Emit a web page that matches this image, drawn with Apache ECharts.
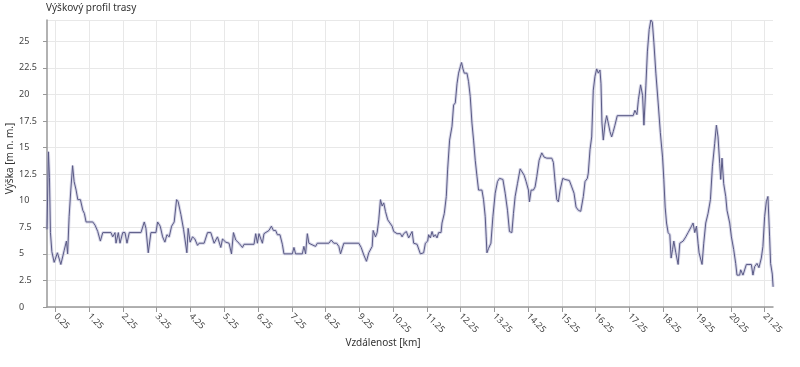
<!DOCTYPE html>
<html>
<head>
<meta charset="utf-8">
<script src="https://cdn.jsdelivr.net/npm/echarts@6/dist/echarts.min.js"></script>
<style>html,body{margin:0;padding:0;background:#fff}#c{width:800px;height:367px}</style>
</head>
<body>
<div id="c"></div>
<script>
const titleText = 'Výškový profil trasy';
const xAxisName = 'Vzdálenost [km]';
const yAxisName = 'Výška [m n. m.]';
const xTickValues = [0.25,1.25,2.25,3.25,4.25,5.25,6.25,7.25,8.25,9.25,10.25,11.25,12.25,13.25,14.25,15.25,16.25,17.25,18.25,19.25,20.25,21.25];
const distanceKm = [0.0,0.043,0.073,0.102,0.144,0.212,0.309,0.410,0.507,0.575,0.611,0.655,0.705,0.758,0.803,0.862,0.912,0.989,1.060,1.107,1.157,1.355,1.423,1.503,1.580,1.651,1.896,1.946,2.014,2.044,2.112,2.162,2.242,2.310,2.369,2.437,2.783,2.880,2.930,2.998,3.078,3.226,3.276,3.353,3.424,3.492,3.551,3.619,3.690,3.767,3.837,3.885,3.965,4.044,4.142,4.180,4.239,4.310,4.378,4.458,4.505,4.653,4.754,4.851,4.949,5.049,5.147,5.197,5.294,5.392,5.463,5.522,5.590,5.687,5.788,5.835,6.131,6.181,6.231,6.278,6.379,6.426,6.574,6.645,6.704,6.772,6.822,6.899,6.970,7.017,7.265,7.313,7.363,7.561,7.608,7.658,7.709,7.756,7.954,8.004,8.347,8.418,8.495,8.575,8.643,8.693,8.790,9.234,9.304,9.381,9.461,9.529,9.630,9.659,9.727,9.777,9.825,9.875,9.925,9.972,10.023,10.091,10.150,10.221,10.268,10.318,10.368,10.466,10.516,10.563,10.643,10.711,10.761,10.812,10.859,10.909,10.959,11.057,11.154,11.205,11.273,11.302,11.352,11.403,11.450,11.500,11.550,11.598,11.669,11.698,11.766,11.825,11.864,11.923,11.994,12.041,12.091,12.142,12.189,12.239,12.277,12.319,12.357,12.437,12.484,12.534,12.585,12.632,12.682,12.733,12.780,12.880,12.928,12.978,13.007,13.028,13.075,13.146,13.205,13.273,13.341,13.400,13.501,13.569,13.637,13.696,13.767,13.814,13.864,13.932,14.012,14.062,14.130,14.189,14.257,14.287,14.337,14.405,14.455,14.506,14.574,14.653,14.721,14.801,14.949,14.996,15.046,15.097,15.144,15.194,15.274,15.342,15.469,15.540,15.608,15.667,15.735,15.806,15.883,15.933,16.001,16.030,16.081,16.131,16.178,16.228,16.279,16.326,16.376,16.406,16.435,16.474,16.524,16.574,16.622,16.672,16.722,16.769,16.819,16.888,17.360,17.410,17.470,17.514,17.579,17.608,17.638,17.677,17.735,17.780,17.833,17.883,17.927,17.972,18.031,18.099,18.164,18.229,18.267,18.306,18.347,18.394,18.445,18.483,18.525,18.563,18.622,18.690,18.740,18.790,18.838,18.917,18.986,19.036,19.086,19.133,19.183,19.234,19.281,19.311,19.399,19.449,19.508,19.576,19.647,19.706,19.774,19.824,19.872,19.922,19.952,19.990,20.040,20.100,20.138,20.218,20.268,20.336,20.395,20.433,20.513,20.543,20.611,20.661,20.711,20.788,20.859,20.906,20.957,21.025,21.084,21.154,21.202,21.252,21.302,21.350,21.400,21.429,21.479,21.503];
const elevation = [7.3,14.6,12.2,7.0,5.2,4.2,5.1,4.0,5.3,6.2,5.0,8.5,11.0,13.3,11.8,11.0,10.1,10.1,9.1,8.8,8.0,8.0,7.7,7.1,6.2,7.0,7.0,6.6,7.0,6.0,7.0,6.0,7.0,7.0,6.0,7.0,7.0,8.0,7.4,5.1,7.0,7.0,8.0,7.6,6.6,6.1,6.8,6.6,7.6,8.0,10.1,9.9,8.7,7.3,5.1,7.4,6.1,6.6,6.4,5.8,6.0,6.0,7.0,7.0,6.0,6.6,5.6,6.4,6.1,6.0,5.0,7.0,6.3,6.0,5.6,5.9,5.9,6.9,6.0,6.9,6.0,6.9,7.2,7.6,7.2,7.2,6.8,6.8,5.9,5.0,5.0,5.6,5.0,5.0,5.7,5.0,6.9,6.0,5.7,6.0,6.0,6.3,6.0,6.0,5.7,5.0,6.0,6.0,5.6,4.9,4.3,5.1,5.7,7.2,6.6,7.0,8.2,10.1,9.5,9.8,9.0,8.2,8.1,7.6,7.1,7.2,6.9,6.9,6.6,6.9,7.1,6.5,6.6,7.1,6.0,6.1,5.9,5.0,5.1,6.0,6.2,6.8,6.5,7.1,6.6,6.8,6.5,7.0,7.0,7.9,8.8,10.4,12.9,15.7,17.0,19.0,19.2,21.0,22.0,22.6,23.0,22.4,22.0,22.0,21.2,19.8,17.3,15.7,13.8,12.3,11.0,11.0,10.1,8.5,6.6,5.1,5.5,6.0,8.5,10.7,11.8,12.1,12.0,10.7,9.1,7.1,7.0,8.8,10.4,11.6,13.0,13.0,12.4,11.8,11.0,9.9,11.0,11.0,11.3,12.3,13.8,14.5,14.1,14.0,14.0,13.6,11.8,10.1,9.9,11.0,12.1,12.0,11.9,11.3,10.7,9.4,9.1,9.0,10.4,11.8,12.1,12.6,14.8,16.0,20.4,21.7,22.4,22.0,22.3,21.0,17.3,15.7,17.2,18.0,17.3,16.5,16.0,16.5,17.1,18.0,18.0,18.5,18.1,19.5,20.9,20.9,19.9,17.1,20.8,24.0,26.1,27.0,26.8,24.9,22.0,19.2,16.4,14.1,12.0,9.4,7.9,7.0,6.8,4.6,5.4,6.2,5.1,4.0,6.0,6.0,6.2,6.6,7.0,7.0,7.6,7.9,7.0,7.6,6.0,5.1,4.0,6.0,7.9,8.8,10.1,13.2,15.4,17.1,16.0,13.5,12.0,14.0,11.6,10.4,9.1,7.9,6.6,5.4,4.1,3.0,3.0,3.5,3.0,3.0,4.0,4.0,4.0,3.0,3.8,4.1,3.7,4.6,5.7,8.5,9.9,10.4,6.6,4.1,3.1,1.9];

const points = distanceKm.map((d, i) => [d, elevation[i]]);
const FONT = 'Noto Sans';
const chart = echarts.init(document.getElementById('c'), null, {renderer: 'canvas'});
chart.setOption({
  animation: false,
  backgroundColor: '#fff',
  textStyle: {fontFamily: FONT},
  title: {
    text: titleText, left: 46, top: 3, padding: 0,
    textStyle: {fontSize: 10, fontWeight: 'normal', color: '#333', fontFamily: FONT}
  },
  grid: {left: 47, right: 27, top: 20, bottom: 60, containLabel: false, outerBoundsMode: 'none'},
  xAxis: {
    type: 'value', min: 0, max: 21.5,
    name: xAxisName, nameLocation: 'middle', nameGap: 31, nameMoveOverlap: false,
    nameTextStyle: {fontSize: 10, color: '#333', fontFamily: FONT, padding: [0, 54, 0, 0]},
    axisLine: {lineStyle: {color: '#999', width: 1.5}},
    axisTick: {show: true, customValues: xTickValues, length: 5, lineStyle: {color: '#999'}},
    axisLabel: {customValues: xTickValues, rotate: -45, fontSize: 9, color: '#444', margin: 8,
      formatter: v => v.toFixed(2)},
    splitLine: {show: true, lineStyle: {color: '#e8e8e8', width: 1}}
  },
  yAxis: {
    type: 'value', min: 0, max: 27, interval: 2.5,
    name: yAxisName, nameLocation: 'middle', nameGap: 32, nameRotate: 90, nameMoveOverlap: false,
    nameTextStyle: {fontSize: 10, color: '#333', fontFamily: FONT, padding: [0, 0, 0, 10]},
    axisLine: {show: true, lineStyle: {color: '#999', width: 1.5}},
    axisTick: {show: true, length: 4, lineStyle: {color: '#999'}},
    axisLabel: {fontSize: 9, color: '#444', align: 'left', margin: 28, showMaxLabel: false,
      formatter: v => String(v)},
    splitLine: {show: true, lineStyle: {color: '#e8e8e8', width: 1}}
  },
  series: [
    {type: 'line', data: points, showSymbol: false, silent: true,
     lineStyle: {color: 'rgba(175,175,210,0.5)', width: 3}, z: 1},
    {type: 'line', data: points, showSymbol: false,
     lineStyle: {color: '#5a5a85', width: 1}, z: 2}
  ]
});
</script>
</body>
</html>
